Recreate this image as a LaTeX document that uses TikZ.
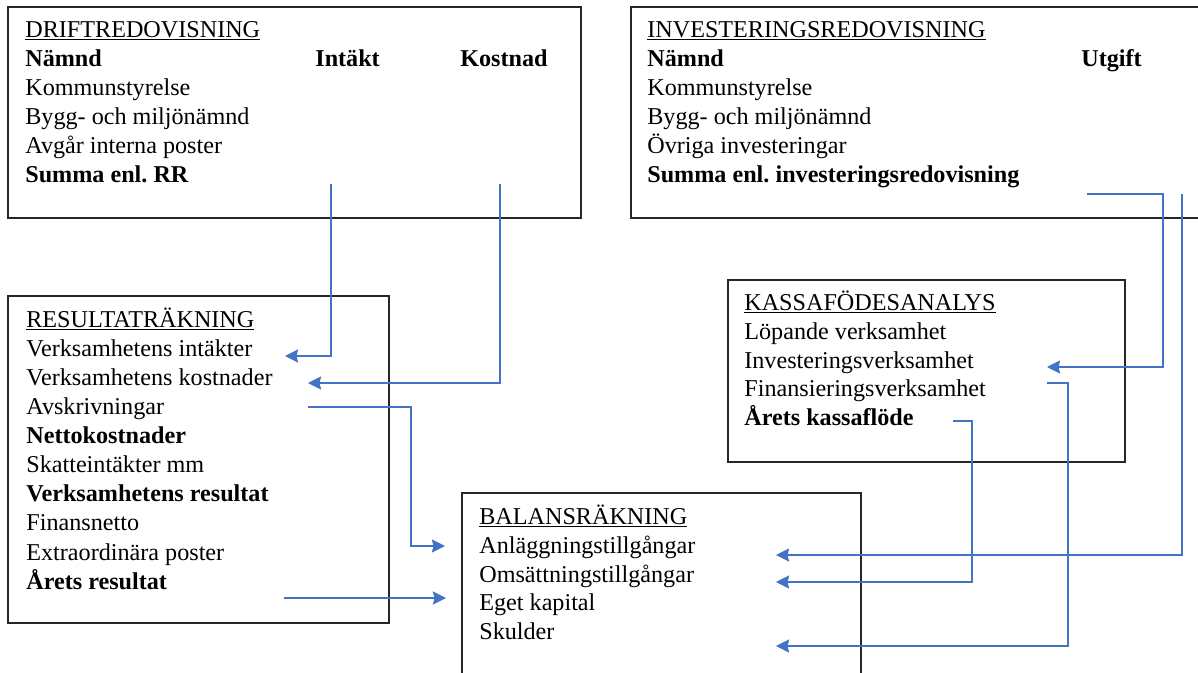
\documentclass[tikz,border=0pt]{standalone}
\usepackage{fontspec}
\setmainfont{Liberation Serif}
\usetikzlibrary{arrows.meta}
\frenchspacing

\definecolor{flowblue}{HTML}{4472C4}
\tikzset{
  panel/.style={draw=black!85, line width=0.75pt},
  row/.style={anchor=base west, inner sep=0pt, font=\fontsize{13.75}{16}\selectfont},
  head/.style={row, font=\fontsize{13.75}{16}\selectfont\bfseries},
  flow/.style={draw=flowblue, line width=0.7pt, -{Stealth[length=7.5pt,width=7.5pt,inset=1pt]}}
}

\begin{document}
\begin{tikzpicture}[x=0.02cm,y=-0.02cm]
\useasboundingbox (0,0) rectangle (1198,673);

% boxes
\draw[panel] (8,7) rectangle (581,218);
\draw[panel] (631,7) rectangle (1210,218);
\draw[panel] (8,296) rectangle (389,623);
\draw[panel] (728,280) rectangle (1125,462);
\draw[panel] (462,493) rectangle (861,690);

% driftredovisning
\node[row]  (dTitle) at (25,37)  {\underline{DRIFTREDOVISNING}};
\node[head] (dNamnd) at (25,66)  {Nämnd};
\node[head] (dInt)   at (315,66) {Intäkt};
\node[head] (dKost)  at (460,66) {Kostnad};
\node[row]  (dKs)    at (25,95)  {Kommunstyrelse};
\node[row]  (dBygg)  at (25,124) {Bygg- och miljönämnd};
\node[row]  (dAvg)   at (25,153) {Avgår interna poster};
\node[head] (dSumma) at (25,182) {Summa enl. RR};

% investeringsredovisning
\node[row]  (iTitle) at (647,37)  {\underline{INVESTERINGSREDOVISNING}};
\node[head] (iNamnd) at (647,66)  {Nämnd};
\node[head] (iUtg)   at (1081,66) {Utgift};
\node[row]  (iKs)    at (647,95)  {Kommunstyrelse};
\node[row]  (iBygg)  at (647,124) {Bygg- och miljönämnd};
\node[row]  (iOvr)   at (647,153) {Övriga investeringar};
\node[head] (iSumma) at (647,182) {Summa enl. investeringsredovisning};

% resultatraekning
\node[row]  (rTitle) at (26,327) {\underline{RESULTATRÄKNING}};
\node[row]  (rInt)   at (26,356) {Verksamhetens intäkter};
\node[row]  (rKost)  at (26,385) {Verksamhetens kostnader};
\node[row]  (rAvskr) at (26,414) {Avskrivningar};
\node[head] (rNetto) at (26,443) {Nettokostnader};
\node[row]  (rSkatt) at (26,472) {Skatteintäkter mm};
\node[head] (rVres)  at (26,501) {Verksamhetens resultat};
\node[row]  (rFin)   at (26,530) {Finansnetto};
\node[row]  (rExtra) at (26,560) {Extraordinära poster};
\node[head] (rAres)  at (26,589) {Årets resultat};

% kassafloedesanalys
\node[row]  (kTitle) at (744,310) {\underline{KASSAFÖDESANALYS}};
\node[row]  (kLop)   at (744,339) {Löpande verksamhet};
\node[row]  (kInv)   at (744,368) {Investeringsverksamhet};
\node[row]  (kFin)   at (744,396) {Finansieringsverksamhet};
\node[head] (kAret)  at (744,425) {Årets kassaflöde};

% balansraekning
\node[row]  (bTitle) at (479,524) {\underline{BALANSRÄKNING}};
\node[row]  (bAnl)   at (479,553) {Anläggningstillgångar};
\node[row]  (bOms)   at (479,582) {Omsättningstillgångar};
\node[row]  (bEget)  at (479,610) {Eget kapital};
\node[row]  (bSkuld) at (479,639) {Skulder};

% connector ends
\coordinate (intOut)  at (331,184);
\coordinate (kostOut) at (500,184);
\coordinate (intIn)   at (285,356);
\coordinate (kostIn)  at (308,383);
\coordinate (avskOut) at (308,407);
\coordinate (aresOut) at (284,598);
\coordinate (anlLeft) at (445,546);
\coordinate (egetIn)  at (446,598);
\coordinate (utgOutA) at (1087,194);
\coordinate (utgOutB) at (1182,194);
\coordinate (invIn)   at (1047,367);
\coordinate (finOut)  at (1047,383);
\coordinate (aretOut) at (953,421);
\coordinate (anlIn)   at (776,555);
\coordinate (omsIn)   at (776,582);
\coordinate (skuldIn) at (776,646);

% arrows
\draw[flow] (intOut) |- (intIn);
\draw[flow] (kostOut) |- (kostIn);
\draw[flow] (avskOut) -- ++(103,0) |- (anlLeft);
\draw[flow] (aresOut) -- (egetIn);
\draw[flow] (utgOutA) -- ++(76,0) |- (invIn);
\draw[flow] (utgOutB) |- (anlIn);
\draw[flow] (finOut) -- ++(21,0) |- (skuldIn);
\draw[flow] (aretOut) -- ++(19,0) |- (omsIn);
\end{tikzpicture}
\end{document}
